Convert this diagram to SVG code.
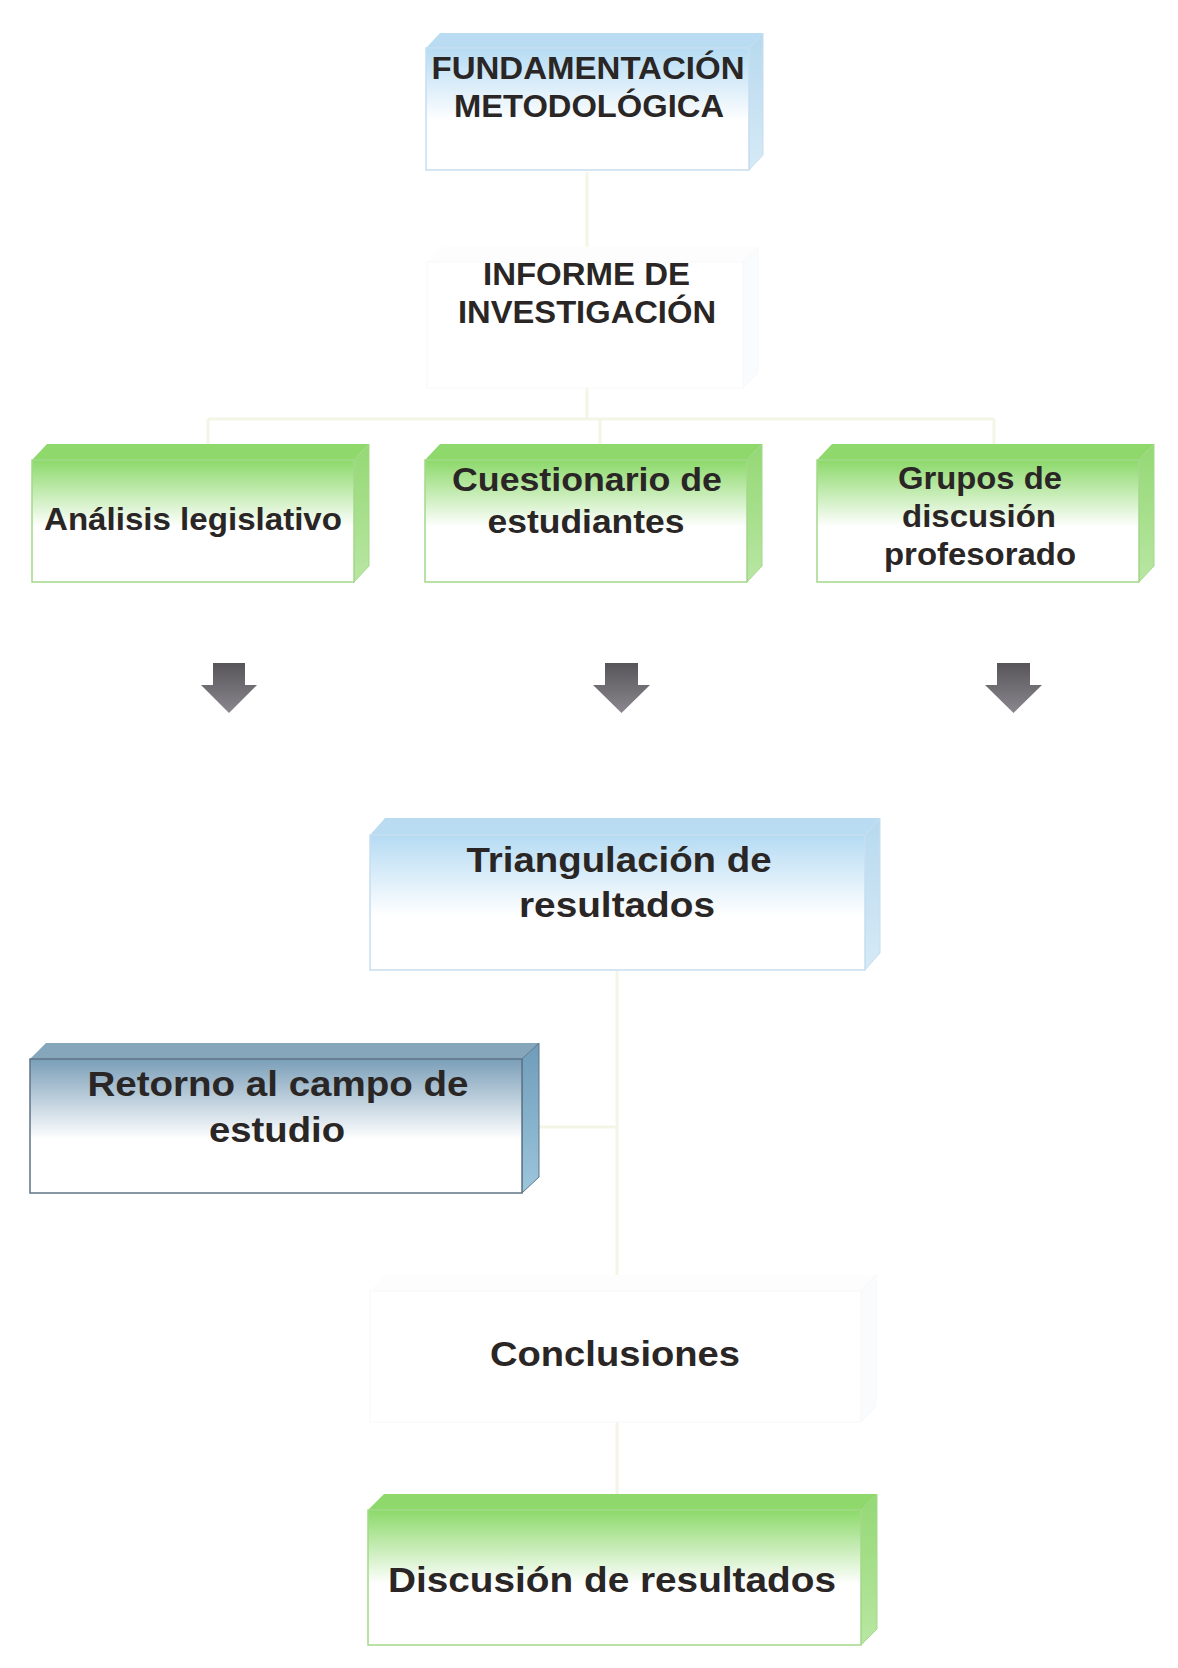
<svg xmlns="http://www.w3.org/2000/svg" width="1178" height="1668" viewBox="0 0 1178 1668">
<defs>
<linearGradient id="gFront" x1="0" y1="0" x2="0" y2="1">
<stop offset="0" stop-color="#8cd96a"/><stop offset="0.55" stop-color="#ffffff"/><stop offset="1" stop-color="#ffffff"/>
</linearGradient>
<linearGradient id="gSide" x1="0" y1="0" x2="0" y2="1">
<stop offset="0" stop-color="#94d874"/><stop offset="1" stop-color="#b9e6a3"/>
</linearGradient>
<linearGradient id="bFront" x1="0" y1="0" x2="0" y2="1">
<stop offset="0" stop-color="#b5dbf3"/><stop offset="0.6" stop-color="#ffffff"/><stop offset="1" stop-color="#ffffff"/>
</linearGradient>
<linearGradient id="bSide" x1="0" y1="0" x2="0" y2="1">
<stop offset="0" stop-color="#b7d9ee"/><stop offset="1" stop-color="#d6eaf6"/>
</linearGradient>
<linearGradient id="sFront" x1="0" y1="0" x2="0" y2="1">
<stop offset="0" stop-color="#7a9eb8"/><stop offset="0.6" stop-color="#ffffff"/><stop offset="1" stop-color="#ffffff"/>
</linearGradient>
<linearGradient id="sSide" x1="0" y1="0" x2="0" y2="1">
<stop offset="0" stop-color="#6f9cba"/><stop offset="1" stop-color="#9cc6dc"/>
</linearGradient>
<linearGradient id="arrowG" x1="0" y1="0" x2="0" y2="1">
<stop offset="0" stop-color="#57555a"/><stop offset="1" stop-color="#8a878e"/>
</linearGradient>
</defs>
<style>
text{font-family:"Liberation Sans",Arial,sans-serif;font-weight:bold;fill:#2a2625;text-anchor:middle}
.g .front{fill:url(#gFront);stroke:#a3d98a;stroke-width:1.5}
.g .top{fill:#8fd86c;stroke:none}
.g .side{fill:url(#gSide);stroke:#a3d98a;stroke-width:1}
.b .front{fill:url(#bFront);stroke:#c6def0;stroke-width:1.5}
.b .top{fill:#b9dcf2}
.b .side{fill:url(#bSide);stroke:#c6def0;stroke-width:1}
.s .front{fill:url(#sFront);stroke:#5f7486;stroke-width:1.5}
.s .top{fill:#86a6bc}
.s .side{fill:url(#sSide);stroke:#5f7486;stroke-width:1}
.f .front{fill:#ffffff;stroke:#f7f8fa;stroke-width:1}
.f .top{fill:#fdfdfe}
.f .side{fill:#fafbfc;stroke:#f7f8fa;stroke-width:1}
.conn{stroke:#f4f5e6;stroke-width:3;fill:none}
.arrow{fill:url(#arrowG)}
</style>

<g id="connectors">
<path class="conn" d="M587 172 V247"/>
<path class="conn" d="M587 388 V419"/>
<path class="conn" d="M208 419 H994"/>
<path class="conn" d="M208 419 V444 M600 419 V444 M994 419 V444"/>
<path class="conn" d="M617 970 V1275"/>
<path class="conn" d="M539 1127 H617"/>
<path class="conn" d="M617 1422 V1494"/>
<polygon class="arrow" points="213,663 245,663 245,685 257,685 229,713 201,685 213,685"/>
<polygon class="arrow" points="605,663 638,663 638,685 650,685 621.5,713 593,685 605,685"/>
<polygon class="arrow" points="997,663 1030,663 1030,685 1042,685 1013.5,713 985,685 997,685"/>
</g>

<g id="fundamentacion" class="b">
<polygon class="top" points="426,48 440,33 763,33 749,48"/>
<polygon class="side" points="749,48 763,33 763,155 749,170"/>
<rect class="front" x="426" y="48" width="323" height="122"/>
<text x="588" y="79" font-size="31.5" textLength="313" lengthAdjust="spacingAndGlyphs">FUNDAMENTACIÓN</text>
<text x="589" y="117" font-size="31.5" textLength="270" lengthAdjust="spacingAndGlyphs">METODOLÓGICA</text>
</g>

<g id="informe" class="f">
<polygon class="top" points="427,262 442,247 758,247 743,262"/>
<polygon class="side" points="743,262 758,247 758,373 743,388"/>
<rect class="front" x="427" y="262" width="316" height="126"/>
<text x="586.5" y="285" font-size="30.5" textLength="207" lengthAdjust="spacingAndGlyphs">INFORME DE</text>
<text x="587" y="323" font-size="30.5" textLength="258" lengthAdjust="spacingAndGlyphs">INVESTIGACIÓN</text>
</g>

<g id="analisis" class="g">
<polygon class="top" points="32,460 47,444 369,444 354,460"/>
<polygon class="side" points="354,460 369,444 369,566 354,582"/>
<rect class="front" x="32" y="460" width="322" height="122"/>
<text x="193" y="530" font-size="30.5" textLength="298" lengthAdjust="spacingAndGlyphs">Análisis legislativo</text>
</g>

<g id="cuestionario" class="g">
<polygon class="top" points="425,460 440,444 762,444 747,460"/>
<polygon class="side" points="747,460 762,444 762,566 747,582"/>
<rect class="front" x="425" y="460" width="322" height="122"/>
<text x="587" y="491" font-size="33" textLength="270" lengthAdjust="spacingAndGlyphs">Cuestionario de</text>
<text x="586" y="533" font-size="33" textLength="197" lengthAdjust="spacingAndGlyphs">estudiantes</text>
</g>

<g id="grupos" class="g">
<polygon class="top" points="817,460 832,444 1154,444 1139,460"/>
<polygon class="side" points="1139,460 1154,444 1154,566 1139,582"/>
<rect class="front" x="817" y="460" width="322" height="122"/>
<text x="980" y="489" font-size="30.5" textLength="164" lengthAdjust="spacingAndGlyphs">Grupos de</text>
<text x="979" y="527" font-size="30.5" textLength="154" lengthAdjust="spacingAndGlyphs">discusión</text>
<text x="980" y="565" font-size="30.5" textLength="192" lengthAdjust="spacingAndGlyphs">profesorado</text>
</g>

<g id="triangulacion" class="b">
<polygon class="top" points="370,835 385,818 880,818 865,835"/>
<polygon class="side" points="865,835 880,818 880,953 865,970"/>
<rect class="front" x="370" y="835" width="495" height="135"/>
<text x="619" y="872" font-size="35.5" textLength="305" lengthAdjust="spacingAndGlyphs">Triangulación de</text>
<text x="617" y="917" font-size="35.5" textLength="196" lengthAdjust="spacingAndGlyphs">resultados</text>
</g>

<g id="retorno" class="s">
<polygon class="top" points="30,1059 46,1043 539,1043 522,1059"/>
<polygon class="side" points="522,1059 539,1043 539,1177 522,1193"/>
<rect class="front" x="30" y="1059" width="492" height="134"/>
<text x="278" y="1096" font-size="35.5" textLength="381" lengthAdjust="spacingAndGlyphs">Retorno al campo de</text>
<text x="277" y="1142" font-size="35.5" textLength="136" lengthAdjust="spacingAndGlyphs">estudio</text>
</g>

<g id="conclusiones" class="f">
<polygon class="top" points="370,1291 385,1275 876,1275 861,1291"/>
<polygon class="side" points="861,1291 876,1275 876,1406 861,1422"/>
<rect class="front" x="370" y="1291" width="491" height="131"/>
<text x="615" y="1366" font-size="35.5" textLength="250" lengthAdjust="spacingAndGlyphs">Conclusiones</text>
</g>

<g id="discusion" class="g">
<polygon class="top" points="368,1510 384,1494 877,1494 861,1510"/>
<polygon class="side" points="861,1510 877,1494 877,1629 861,1645"/>
<rect class="front" x="368" y="1510" width="493" height="135"/>
<text x="612" y="1592" font-size="35.5" textLength="448" lengthAdjust="spacingAndGlyphs">Discusión de resultados</text>
</g>
</svg>
